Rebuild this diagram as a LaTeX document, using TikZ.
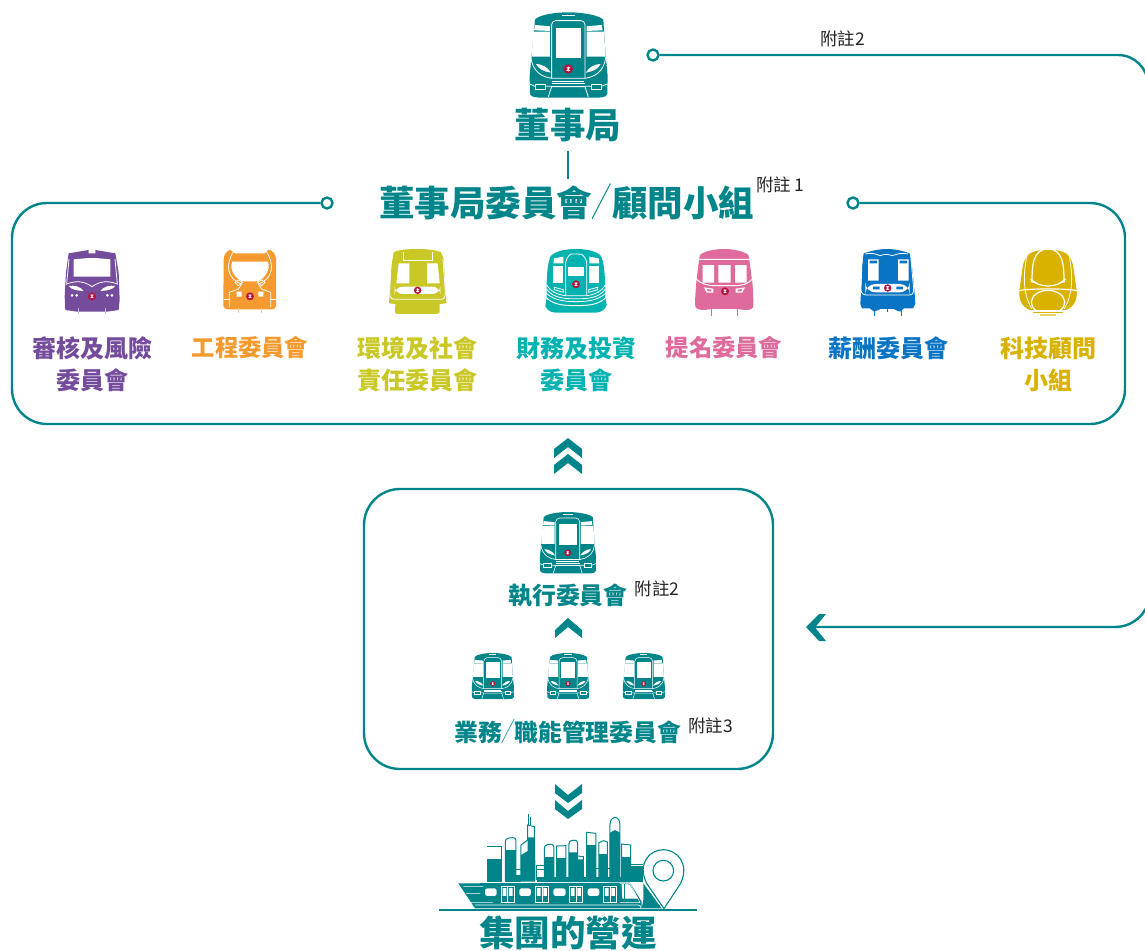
\documentclass[tikz,border=0pt]{standalone}
\usepackage{fontspec}
\usepackage{graphicx}
\setmainfont{Noto Sans CJK TC}
\definecolor{teal0}{HTML}{00868A}
\definecolor{purple0}{HTML}{754C9C}
\definecolor{orange0}{HTML}{F59A2F}
\definecolor{olive0}{HTML}{C9C826}
\definecolor{turq0}{HTML}{00B2B0}
\definecolor{pink0}{HTML}{DE6B9B}
\definecolor{blue0}{HTML}{0A74C4}
\definecolor{gold0}{HTML}{D9B200}
\definecolor{red0}{HTML}{B5103C}
\definecolor{note0}{HTML}{222222}
\newcommand\logoat[3]{\begin{scope}[shift={(#1,#2)},scale=#3]\fill[red0] (0,0) circle (14); \draw[white,line width=.4pt] (-6,-5)--(6,-5) (-6,5)--(6,5) (0,-8)--(0,8) (-5,-5)--(5,5) (5,-5)--(-5,5);\end{scope}}
\newcommand\slashmark[2]{\makebox[#1]{\scalebox{.6}[1.15]{\mdseries\fontsize{#2}{#2}\selectfont ／}}}
\tikzset{
  wl/.style={draw=white,line width=.8pt},
  conn/.style={draw=teal0,line width=2.4pt},
  ring/.style={circle,draw=teal0,line width=2.4pt,fill=white,minimum size=11pt,inner sep=0pt},
  big/.style={inner sep=0pt,text=teal0,font=\bfseries\fontsize{35.5}{35.5}\selectfont},
  mid/.style={inner sep=0pt,text=teal0,font=\bfseries\fontsize{23.8}{23.8}\selectfont},
  lab/.style={inner sep=0pt,align=center,font=\bfseries\fontsize{24}{32}\selectfont},
  labsmall/.style={inner sep=0pt,align=center,font=\bfseries\fontsize{23.3}{32}\selectfont},
  note/.style={inner sep=0pt,text=note0,font=\fontsize{17.5}{18}\selectfont},
  chev/.style={fill=teal0},
  trainteal/.pic={
    \fill[teal0] (0,0) .. controls (-40,0) and (-90,8) .. (-100,22) -- (-110,130) -- (-116,190) -- (-115,245) .. controls (-112,256) and (-90,256) .. (-80,256) -- (80,256) .. controls (95,256) and (115,256) .. (117,245) -- (118,190) -- (112,130) -- (105,22) .. controls (90,8) and (40,0) .. (0,0) -- cycle;
    \fill[white] (-105,58) -- (-55,58) -- (-55,133) -- (-110,133) -- cycle;
    \fill[white] (-100,38) -- (-55,42) -- (-55,56) -- (-103,54) -- cycle;
    \fill[white] (55,58) -- (107,58) -- (112,133) -- (55,133) -- cycle;
    \fill[white] (55,42) -- (100,38) -- (103,54) -- (55,56) -- cycle;
    \draw[wl,rounded corners=4] (-50,198) -- (-50,25) -- (50,25) -- (50,198);
    \fill[white] (-37,48) rectangle (38,138);
    \draw[wl] (-20,8) -- (20,8);
    \fill[white] (-97,155) .. controls (-80,155) and (-60,165) .. (-53,181) .. controls (-75,178) and (-92,168) .. (-97,155) -- cycle;
    \fill[white] (97,155) .. controls (80,155) and (60,165) .. (53,181) .. controls (75,178) and (92,168) .. (97,155) -- cycle;
    \draw[wl] (-112,135) .. controls (-108,180) and (-75,195) .. (-50,198) -- (50,198) .. controls (75,195) and (108,180) .. (112,135);
    \draw[wl] (-48,206) -- (48,206) (-50,214) -- (50,214);
    \draw[wl] (-60,254) -- (-50,223) -- (50,223) -- (60,254);
    \draw[wl] (-100,215) rectangle (-70,231) (70,215) rectangle (100,231);
    \draw[wl] (-116,215) -- (-100,222) (-70,222) -- (-50,222) (50,222) -- (70,222) (100,222) -- (117,215);
    \logoat{0}{170}{1}
  },
  trainpurple/.pic={
    \fill[purple0] (-70,13) -- (-10,3) -- (-10,13) -- (10,13) -- (10,3) -- (70,13) -- (80,70) -- (83,153) -- (80,183) -- (45,188) -- (-45,188) -- (-80,183) -- (-82,143) -- (-78,70) -- cycle;
    \fill[white] (-55,31) -- (-10,27) -- (10,27) -- (55,31) -- (55,83) -- (-55,83) -- cycle;
    \draw[wl] (-69,30) -- (-76,105) .. controls (-50,95) and (-25,95) .. (0,113) .. controls (25,95) and (50,95) .. (76,105) -- (69,30);
    \fill[white] (-70,111) .. controls (-55,108) and (-35,112) .. (-25,126) .. controls (-45,125) and (-62,122) .. (-70,111) -- cycle;
    \fill[white] (70,111) .. controls (55,108) and (35,112) .. (25,126) .. controls (45,125) and (62,122) .. (70,111) -- cycle;
    \fill[white] (-60,139) circle (4.5) (-46,139) circle (4.5) (60,139) circle (4.5) (46,139) circle (4.5);
    \draw[purple0!40,line width=.9pt] (-40,178) -- (-40,196) (40,178) -- (40,196);
    \logoat{0}{142}{.85}
  },
  trainorange/.pic={
    \fill[orange0] (-60,2) .. controls (-70,8) and (-78,15) .. (-79,30) -- (-80,172) .. controls (-76,180) and (-70,181) .. (-65,181) -- (65,181) .. controls (70,181) and (76,180) .. (78,172) -- (78,30) .. controls (76,12) and (68,5) .. (55,2) -- (45,13) -- (-45,13) -- cycle;
    \fill[white] (-53,38) -- (53,38) .. controls (65,60) and (40,95) .. (20,97) -- (-20,97) .. controls (-40,95) and (-65,60) .. (-53,38) -- cycle;
    \draw[wl] (-48,6) .. controls (-75,45) and (-70,90) .. (-25,105) -- (-35,120) -- (-62,130) -- (-62,175) (48,6) .. controls (75,45) and (70,90) .. (25,105) -- (35,120) -- (62,130) -- (62,175);
    \draw[wl] (-35,93) -- (-22,100) -- (-35,110) -- (-45,100) -- cycle (35,93) -- (22,100) -- (35,110) -- (45,100) -- cycle;
    \fill[white] (-40,128) rectangle (-25,143) (25,128) rectangle (40,143);
    \draw[wl] (-78,150) -- (-60,150) (60,150) -- (78,150);
    \draw[orange0!50,line width=.9pt] (-35,178) -- (-35,192) (35,178) -- (35,192);
    \logoat{0}{142}{.85}
  },
  trainolive/.pic={
    \fill[olive0] (0,0) .. controls (-30,0) and (-60,3) .. (-70,10) -- (-78,60) -- (-84,163) -- (-65,165) -- (-66,190) .. controls (-66,194) and (-60,195) .. (-55,195) -- (55,195) .. controls (60,195) and (66,194) .. (68,190) -- (68,165) -- (88,163) -- (80,30) -- (72,10) .. controls (60,3) and (30,0) .. (0,0) -- cycle;
    \fill[white] (-55,43) -- (-23,43) -- (-23,103) -- (-62,103) -- cycle;
    \fill[white] (30,43) -- (62,43) -- (68,103) -- (30,103) -- cycle;
    \draw[wl] (-40,8) -- (-40,35) -- (45,35) -- (45,8);
    \fill[white,rounded corners=8] (-67,113) rectangle (70,135);
    \draw[wl] (-77,30) -- (-82,130) .. controls (-82,148) and (-75,151) .. (-65,151) -- (70,151) .. controls (80,151) and (85,148) .. (85,130) -- (78,30);
    \logoat{2}{124}{.8}
  },
  trainturq/.pic={
    \fill[turq0] (0,0) .. controls (-40,0) and (-70,10) .. (-78,25) .. controls (-90,60) and (-88,120) .. (-88,145) -- (-92,172) .. controls (-85,190) and (-65,191) .. (-55,191) -- (57,191) .. controls (70,191) and (88,185) .. (92,168) -- (88,145) .. controls (88,110) and (87,50) .. (77,25) .. controls (70,10) and (40,0) .. (0,0) -- cycle;
    \draw[wl,rounded corners=6] (-31,140) -- (-31,25) .. controls (-15,15) and (15,15) .. (32,25) -- (32,140);
    \fill[white] (-23,53) rectangle (24,81);
    \fill[white] (-68,50) -- (-38,50) -- (-38,103) -- (-68,103) -- cycle;
    \fill[white] (40,50) -- (70,50) -- (70,103) -- (40,103) -- cycle;
    \fill[white] (-66,28) -- (-38,23) -- (-38,43) -- (-68,43) -- cycle;
    \fill[white] (40,23) -- (68,28) -- (70,43) -- (40,43) -- cycle;
    \draw[wl] (-88,108) .. controls (-80,125) and (-55,138) .. (-31,140) -- (32,140) .. controls (55,138) and (80,125) .. (88,108);
    \draw[wl] (-88,120) .. controls (-75,140) and (-50,148) .. (-20,149) -- (20,149) .. controls (50,148) and (75,140) .. (88,120);
    \draw[wl] (-90,132) .. controls (-70,150) and (-45,158) .. (0,158) .. controls (45,158) and (70,150) .. (90,132);
    \draw[wl,line width=1pt] (-90,145) .. controls (-70,165) and (-45,170) .. (0,170) .. controls (45,170) and (70,165) .. (90,145);
    \draw[wl] (-65,115) -- (-38,122) -- (-38,130) -- (-65,122) -- cycle (65,115) -- (38,122) -- (38,130) -- (65,122) -- cycle;
    \logoat{0}{106}{.85}
  },
  trainpink/.pic={
    \fill[pink0] (0,0) .. controls (-30,0) and (-60,7) .. (-72,18) .. controls (-82,60) and (-87,150) .. (-87,165) .. controls (-87,178) and (-80,183) .. (-60,183) -- (-35,180) -- (38,180) -- (65,183) .. controls (85,183) and (88,178) .. (88,165) .. controls (88,120) and (83,60) .. (73,18) .. controls (60,7) and (30,0) .. (0,0) -- cycle;
    \draw[wl,line width=1pt] (-77,31) -- (78,31) (-77,31) -- (-84,90) .. controls (-70,105) and (-45,110) .. (-30,110) -- (35,110) .. controls (50,110) and (75,105) .. (85,90) -- (78,31);
    \fill[white] (-64,48) rectangle (-30,101) (-17,48) rectangle (20,101) (33,48) rectangle (68,101);
    \fill[white] (-60,115) -- (-32,119) -- (-32,131) -- (-52,131) -- cycle (63,115) -- (35,119) -- (35,131) -- (55,131) -- cycle;
    \fill[pink0] (-52,120) -- (-38,122) -- (-38,127) -- (-48,127) -- cycle (55,120) -- (41,122) -- (41,127) -- (51,127) -- cycle;
    \draw[pink0,line width=1pt] (-38,180) -- (-38,200) (41,180) -- (41,200);
    \logoat{3}{127}{.85}
  },
  trainblue/.pic={
    \fill[blue0] (-70,13) .. controls (-40,3) and (-20,0) .. (0,0) .. controls (20,0) and (40,3) .. (68,13) -- (76,60) -- (83,135) -- (85,165) -- (78,178) -- (50,178) -- (42,187) -- (35,187) -- (20,180) -- (-20,180) -- (-35,187) -- (-40,187) -- (-52,178) -- (-75,178) -- (-80,165) -- (-78,130) -- (-76,60) -- cycle;
    \fill[white] (-57,31) rectangle (-25,95) (33,31) rectangle (65,95);
    \fill[blue0] (-52,35) rectangle (-30,43) (38,35) rectangle (60,43);
    \draw[wl] (-65,15) .. controls (-40,10) and (-35,16) .. (-20,20) .. controls (-10,15) and (5,15) .. (15,20) .. controls (30,16) and (40,10) .. (63,15);
    \fill[white,rounded corners=10] (-65,105) rectangle (68,130);
    \fill[blue0] (-42,113) rectangle (-22,121) (28,113) rectangle (48,121);
    \draw[wl] (-75,30) -- (-78,120) .. controls (-78,135) and (-70,138) .. (-60,138) -- (65,138) .. controls (75,138) and (80,135) .. (80,120) -- (72,30);
    \draw[blue0,line width=.9pt] (-38,187) -- (-38,200) (42,187) -- (42,200) (0,180) -- (0,190);
    \logoat{2}{117}{.8}
  },
  traingold/.pic={
    \fill[gold0] (0,3) .. controls (-50,3) and (-70,12) .. (-77,60) -- (-86,125) .. controls (-90,170) and (-60,185) .. (-40,185) -- (40,185) .. controls (60,185) and (90,170) .. (86,125) -- (77,60) .. controls (70,12) and (50,3) .. (0,3) -- cycle;
    \draw[white,line width=1.2pt] (-48,95) .. controls (-48,50) and (-45,0) .. (0,0) .. controls (45,0) and (48,50) .. (48,95);
    \draw[wl] (-62,12) .. controls (-72,60) and (-80,130) .. (-48,180) (62,12) .. controls (72,60) and (80,130) .. (48,180);
    \draw[white,line width=1.2pt] (-52,90) .. controls (-30,118) and (30,118) .. (52,90);
    \draw[white,line width=1.2pt] (0,160) ellipse (50 and 36);
    \draw[white,line width=1.2pt] (-86,125) .. controls (-60,118) and (60,118) .. (86,125);
    \fill[white] (-53,90) -- (-30,103) -- (-50,100) -- cycle (53,90) -- (30,103) -- (50,100) -- cycle;
    \fill[white] (-60,184) rectangle (60,188);
    \fill[gold0] (-46,188) rectangle (46,191);
    \fill[gold0!60] (-23,196) rectangle (23,200);
  },
  bline/.style={draw=teal0,line width=1pt,fill=white},
  cityscape/.pic={
    \draw[teal0,line width=1pt] (172,200) -- (215,200) -- (215,290);
    \fill[teal0] (170,238) rectangle (215,305);
    \draw[bline,rounded corners=3] (226,300) -- (226,175) -- (258,172) -- (258,300);
    \fill[teal0] (226,210) rectangle (258,305);
    \draw[bline] (273,300) -- (273,195) -- (293,180) -- (293,135) -- (313,140) -- (315,300);
    \fill[teal0] (273,225) -- (293,213) -- (293,172) -- (315,172) -- (315,305) -- (273,305) -- cycle;
    \draw[teal0,line width=1pt] (297,103) -- (297,135) (302,110) -- (302,135);
    \draw[bline,rounded corners=3] (343,300) -- (343,195) -- (372,192) -- (372,300);
    \fill[teal0] (343,230) rectangle (372,305);
    \draw[bline] (380,300) -- (380,198) -- (408,197) -- (408,300);
    \fill[teal0] (380,233) rectangle (408,305);
    \draw[bline,rounded corners=3] (417,300) -- (417,182) -- (443,180) -- (443,300);
    \draw[bline] (443,228) -- (460,230) -- (460,300);
    \fill[teal0] (417,217) -- (443,217) -- (443,238) -- (460,238) -- (460,305) -- (417,305) -- cycle;
    \draw[bline] (470,300) -- (470,157) -- (498,160) -- (498,300);
    \fill[teal0] (470,195) rectangle (498,305);
    \draw[bline] (507,300) -- (507,188) -- (520,182) -- (532,186) -- (532,300);
    \fill[teal0] (507,222) rectangle (532,305);
    \draw[bline] (540,300) -- (540,135) .. controls (540,105) and (570,105) .. (570,135) -- (570,300);
    \fill[teal0] (540,158) -- (555,150) -- (570,158) -- (570,305) -- (540,305) -- cycle;
    \draw[bline] (575,300) -- (575,192) -- (602,195) -- (602,300);
    \fill[teal0] (575,232) rectangle (602,305);
    \draw[teal0,line width=1pt] (258,268) -- (273,268) (320,300) -- (320,255) -- (343,255) (320,268) -- (343,268) (498,265) -- (507,265) (532,265) -- (540,265) (602,252) -- (640,252);
    \fill[teal0] (320,292) rectangle (640,305);
    \fill[teal0] (602,258) rectangle (640,305);
    \fill[teal0] (258,285) rectangle (273,305);
    \draw[teal0,line width=1.1pt,fill=white] (702,386) -- (650,310) .. controls (620,250) and (660,209) .. (700,209) .. controls (740,209) and (780,250) .. (752,310) -- cycle;
    \draw[teal0,line width=1.1pt] (700,272) circle (31);
    \fill[teal0] (85,310) -- (600,308) -- (635,365) -- (635,385) -- (135,385) -- cycle;
    \fill[teal0] (640,310) -- (695,385) -- (635,385) -- (640,360) -- cycle;
    \fill[white,rounded corners=2.5] (165,325) rectangle (200,348) (268,325) rectangle (303,348) (370,325) rectangle (407,348) (473,325) rectangle (508,348);
    \foreach \d in {213,316,418,520}{\draw[wl,line width=.6pt] (\d,318) rectangle ++(40,50) (\d+20,318) -- (\d+20,368); \fill[white] (\d+5,324) rectangle ++(11,24) (\d+24,324) rectangle ++(11,24);}
    \draw[wl,line width=.6pt] (570,310) -- (600,310) -- (630,368) -- (570,368);
    \fill[white] (575,312) -- (598,313) -- (624,356) -- (577,356) -- cycle;
    \draw[teal0,line width=.6pt] (582,312) -- (582,356);
    \draw[wl,line width=.6pt] (100,320) -- (160,320) (108,340) -- (150,340) (120,368) -- (188,368) (135,375) -- (625,375) .. controls (632,375) and (634,380) .. (632,385);
  }
}
\begin{document}
\begin{tikzpicture}[x=1pt,y=-1pt]
\useasboundingbox (0,0) rectangle (1145,950);
\clip (0,0) rectangle (1145,950);
\node[big] (board) at (568,125) {董事局};
\node[big] (committee) at (566.5,202) {董事局委員會\slashmark{20pt}{34}顧問小組};
\draw[teal0,line width=2pt,shorten <=9pt,shorten >=5pt] (board.south) -- (board.south |- committee.north);
\node[ring] (ringL) at (327,203) {};
\node[ring] (ringR) at (853,203) {};
\draw[conn,rounded corners=35pt] (ringL.west) -- (12,203) -- (12,424) -- (1125,424) -- (1125,203) -- (ringR.east);
\node[ring] (ringT) at (653,55) {};
\coordinate (backTip) at (815,627);
\draw[conn] (ringT.east) -- (1118,55) arc[start angle=-90,end angle=0,radius=30] -- (1150,592) arc[start angle=0,end angle=90,radius=35] -- (backTip);
\fill[teal0] (806,627) -- (819,614) -- (826,614) -- (815,627.5) -- (826,641) -- (819,641) -- cycle;
\node[inner sep=0pt,minimum width=409pt,minimum height=280pt,draw=teal0,line width=2.4pt,rounded corners=36pt] (execbox) at (568.5,629) {};
\pic at (568.3,12.3) [scale=.3333] {trainteal};
\pic at (92,249) [scale=.3333] {trainpurple};
\pic at (250,249) [scale=.3333] {trainorange};
\pic at (417,249) [scale=.3333] {trainolive};
\pic at (576,249) [scale=.3333] {trainturq};
\pic at (724,249) [scale=.3333] {trainpink};
\pic at (887,249) [scale=.3333] {trainblue};
\pic at (1048,249) [scale=.3333] {traingold};
\pic at (567.7,512) [scale=.24,wl/.style={draw=white,line width=.6pt}] {trainteal};
\pic at (492.7,653) [scale=.18,wl/.style={draw=white,line width=.5pt}] {trainteal};
\pic at (568,653) [scale=.18,wl/.style={draw=white,line width=.5pt}] {trainteal};
\pic at (643.7,653) [scale=.18,wl/.style={draw=white,line width=.5pt}] {trainteal};
\node[lab,text=purple0] (l1) at (92,364) {審核及風險\\委員會};
\node[labsmall,text=orange0] (l2) at (250,348) {工程委員會};
\node[lab,text=olive0] (l3) at (417,364) {環境及社會\\責任委員會};
\node[lab,text=turq0] (l4) at (576,364) {財務及投資\\委員會};
\node[labsmall,text=pink0] (l5) at (724,348) {提名委員會};
\node[lab,text=blue0] (l6) at (888,348) {薪酬委員會};
\node[lab,text=gold0] (l7) at (1048,364) {科技顧問\\小組};
\node[mid] (exec) at (568,596) {執行委員會};
\node[mid] (biz) at (568,731) {業務\slashmark{12pt}{23}職能管理委員會};
\node[big] (ops) at (568,932.5) {集團的營運};
\node[note] (n1) at (780,185) {附註\hspace{3pt}1};
\node[note] (n2) at (842.5,39) {附註2};
\node[note] (n3) at (657,589) {附註2};
\node[note] (n4) at (710.5,726) {附註3};
\fill[chev] (568,438) -- (582,449) -- (582,458) -- (568,447) -- (554,458) -- (554,449) -- cycle;
\fill[chev] (568,454) -- (582,465) -- (582,474) -- (568,463) -- (554,474) -- (554,465) -- cycle;
\fill[chev] (568,618) -- (582,630) -- (582,638) -- (568,627) -- (555,638) -- (555,630) -- cycle;
\fill[chev] (568,803) -- (582,793) -- (582,784) -- (568,795) -- (555,784) -- (555,793) -- cycle;
\fill[chev] (568,819) -- (582,809) -- (582,800) -- (568,811) -- (555,800) -- (555,809) -- cycle;
\pic at (430,780) [scale=.3333] {cityscape};
\draw[teal0,line width=2pt] (439,909.5) -- (697,909.5);
\end{tikzpicture}
\end{document}
